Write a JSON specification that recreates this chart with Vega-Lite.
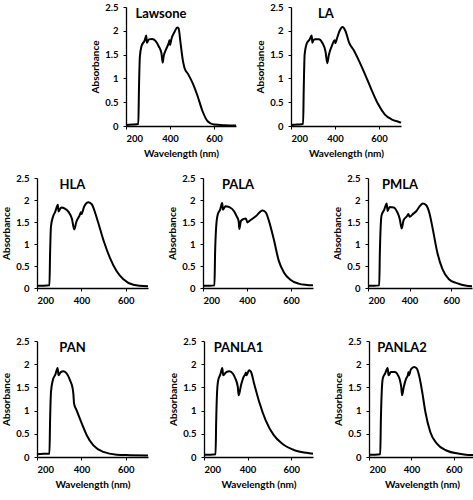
{
  "$schema": "https://vega.github.io/schema/vega-lite/v6.json",
  "padding": {"left": 1, "top": 2, "right": 0, "bottom": 0},
  "background": "white",
  "datasets": {
    "Lawsone": [
      {"wavelength": 200, "absorbance": 0.02}, {"wavelength": 230, "absorbance": 0.03}, {"wavelength": 256, "absorbance": 0.04},
      {"wavelength": 259, "absorbance": 0.8}, {"wavelength": 263, "absorbance": 1.45}, {"wavelength": 270, "absorbance": 1.67},
      {"wavelength": 285, "absorbance": 1.8}, {"wavelength": 292, "absorbance": 1.9}, {"wavelength": 295, "absorbance": 1.75},
      {"wavelength": 304, "absorbance": 1.82}, {"wavelength": 319, "absorbance": 1.83}, {"wavelength": 334, "absorbance": 1.79},
      {"wavelength": 349, "absorbance": 1.67}, {"wavelength": 361, "absorbance": 1.53}, {"wavelength": 367, "absorbance": 1.33},
      {"wavelength": 371, "absorbance": 1.46}, {"wavelength": 382, "absorbance": 1.61}, {"wavelength": 394, "absorbance": 1.74},
      {"wavelength": 398, "absorbance": 1.8}, {"wavelength": 400, "absorbance": 1.7}, {"wavelength": 406, "absorbance": 1.82},
      {"wavelength": 421, "absorbance": 1.98}, {"wavelength": 433, "absorbance": 2.07}, {"wavelength": 439, "absorbance": 2.05},
      {"wavelength": 448, "absorbance": 1.74}, {"wavelength": 458, "absorbance": 1.39}, {"wavelength": 466, "absorbance": 1.22},
      {"wavelength": 481, "absorbance": 1.1}, {"wavelength": 503, "absorbance": 0.9}, {"wavelength": 526, "absorbance": 0.62},
      {"wavelength": 548, "absorbance": 0.31}, {"wavelength": 571, "absorbance": 0.1}, {"wavelength": 600, "absorbance": 0.03},
      {"wavelength": 650, "absorbance": 0.015}, {"wavelength": 700, "absorbance": 0.01}
    ],
    "LA": [
      {"wavelength": 200, "absorbance": 0.02}, {"wavelength": 230, "absorbance": 0.03}, {"wavelength": 255, "absorbance": 0.04},
      {"wavelength": 258, "absorbance": 0.8}, {"wavelength": 262, "absorbance": 1.5}, {"wavelength": 272, "absorbance": 1.74},
      {"wavelength": 285, "absorbance": 1.82}, {"wavelength": 294, "absorbance": 1.9}, {"wavelength": 297, "absorbance": 1.75},
      {"wavelength": 300, "absorbance": 1.78}, {"wavelength": 309, "absorbance": 1.82}, {"wavelength": 327, "absorbance": 1.82},
      {"wavelength": 342, "absorbance": 1.75}, {"wavelength": 357, "absorbance": 1.56}, {"wavelength": 365, "absorbance": 1.32},
      {"wavelength": 372, "absorbance": 1.49}, {"wavelength": 387, "absorbance": 1.7}, {"wavelength": 399, "absorbance": 1.8},
      {"wavelength": 402, "absorbance": 1.74}, {"wavelength": 409, "absorbance": 1.84}, {"wavelength": 421, "absorbance": 2.0},
      {"wavelength": 435, "absorbance": 2.08}, {"wavelength": 447, "absorbance": 2.0}, {"wavelength": 465, "absorbance": 1.74},
      {"wavelength": 484, "absorbance": 1.6}, {"wavelength": 507, "absorbance": 1.39}, {"wavelength": 537, "absorbance": 1.08},
      {"wavelength": 567, "absorbance": 0.75}, {"wavelength": 597, "absorbance": 0.45}, {"wavelength": 627, "absorbance": 0.24},
      {"wavelength": 657, "absorbance": 0.14}, {"wavelength": 694, "absorbance": 0.08}, {"wavelength": 700, "absorbance": 0.07}
    ],
    "HLA": [
      {"wavelength": 200, "absorbance": 0.05}, {"wavelength": 230, "absorbance": 0.05}, {"wavelength": 256, "absorbance": 0.06},
      {"wavelength": 259, "absorbance": 0.8}, {"wavelength": 263, "absorbance": 1.4}, {"wavelength": 272, "absorbance": 1.62},
      {"wavelength": 282, "absorbance": 1.73}, {"wavelength": 294, "absorbance": 1.89}, {"wavelength": 297, "absorbance": 1.74},
      {"wavelength": 309, "absorbance": 1.83}, {"wavelength": 327, "absorbance": 1.8}, {"wavelength": 342, "absorbance": 1.73},
      {"wavelength": 357, "absorbance": 1.58}, {"wavelength": 368, "absorbance": 1.33}, {"wavelength": 377, "absorbance": 1.5},
      {"wavelength": 392, "absorbance": 1.65}, {"wavelength": 398, "absorbance": 1.72}, {"wavelength": 400, "absorbance": 1.68},
      {"wavelength": 413, "absorbance": 1.86}, {"wavelength": 432, "absorbance": 1.95}, {"wavelength": 447, "absorbance": 1.9},
      {"wavelength": 470, "absorbance": 1.58}, {"wavelength": 499, "absorbance": 1.09}, {"wavelength": 529, "absorbance": 0.68},
      {"wavelength": 559, "absorbance": 0.38}, {"wavelength": 589, "absorbance": 0.2}, {"wavelength": 634, "absorbance": 0.075},
      {"wavelength": 700, "absorbance": 0.04}
    ],
    "PALA": [
      {"wavelength": 200, "absorbance": 0.05}, {"wavelength": 230, "absorbance": 0.05}, {"wavelength": 252, "absorbance": 0.06},
      {"wavelength": 255, "absorbance": 0.8}, {"wavelength": 260, "absorbance": 1.4}, {"wavelength": 267, "absorbance": 1.67},
      {"wavelength": 278, "absorbance": 1.78}, {"wavelength": 287, "absorbance": 1.93}, {"wavelength": 291, "absorbance": 1.78},
      {"wavelength": 302, "absorbance": 1.86}, {"wavelength": 320, "absorbance": 1.84}, {"wavelength": 342, "absorbance": 1.74},
      {"wavelength": 353, "absorbance": 1.63}, {"wavelength": 362, "absorbance": 1.52}, {"wavelength": 365, "absorbance": 1.34},
      {"wavelength": 372, "absorbance": 1.52}, {"wavelength": 385, "absorbance": 1.57}, {"wavelength": 395, "absorbance": 1.58},
      {"wavelength": 402, "absorbance": 1.49}, {"wavelength": 410, "absorbance": 1.52}, {"wavelength": 440, "absorbance": 1.63},
      {"wavelength": 470, "absorbance": 1.76}, {"wavelength": 485, "absorbance": 1.72}, {"wavelength": 500, "absorbance": 1.52},
      {"wavelength": 522, "absorbance": 1.1}, {"wavelength": 545, "absorbance": 0.61}, {"wavelength": 567, "absorbance": 0.36},
      {"wavelength": 597, "absorbance": 0.19}, {"wavelength": 634, "absorbance": 0.1}, {"wavelength": 672, "absorbance": 0.07},
      {"wavelength": 700, "absorbance": 0.06}
    ],
    "PMLA": [
      {"wavelength": 200, "absorbance": 0.05}, {"wavelength": 230, "absorbance": 0.05}, {"wavelength": 254, "absorbance": 0.06},
      {"wavelength": 257, "absorbance": 0.8}, {"wavelength": 261, "absorbance": 1.4}, {"wavelength": 265, "absorbance": 1.65},
      {"wavelength": 278, "absorbance": 1.78}, {"wavelength": 290, "absorbance": 1.92}, {"wavelength": 294, "absorbance": 1.75},
      {"wavelength": 304, "absorbance": 1.84}, {"wavelength": 324, "absorbance": 1.83}, {"wavelength": 340, "absorbance": 1.73},
      {"wavelength": 352, "absorbance": 1.58}, {"wavelength": 358, "absorbance": 1.43}, {"wavelength": 362, "absorbance": 1.35},
      {"wavelength": 371, "absorbance": 1.54}, {"wavelength": 387, "absorbance": 1.63}, {"wavelength": 394, "absorbance": 1.68},
      {"wavelength": 400, "absorbance": 1.62}, {"wavelength": 418, "absorbance": 1.69}, {"wavelength": 433, "absorbance": 1.75},
      {"wavelength": 449, "absorbance": 1.86}, {"wavelength": 464, "absorbance": 1.92}, {"wavelength": 480, "absorbance": 1.88},
      {"wavelength": 496, "absorbance": 1.69}, {"wavelength": 511, "absorbance": 1.35}, {"wavelength": 534, "absorbance": 0.79},
      {"wavelength": 558, "absorbance": 0.43}, {"wavelength": 589, "absorbance": 0.2}, {"wavelength": 627, "absorbance": 0.11},
      {"wavelength": 674, "absorbance": 0.05}, {"wavelength": 700, "absorbance": 0.04}
    ],
    "PAN": [
      {"wavelength": 200, "absorbance": 0.06}, {"wavelength": 230, "absorbance": 0.07}, {"wavelength": 256, "absorbance": 0.07},
      {"wavelength": 259, "absorbance": 0.8}, {"wavelength": 263, "absorbance": 1.4}, {"wavelength": 271, "absorbance": 1.65},
      {"wavelength": 283, "absorbance": 1.78}, {"wavelength": 293, "absorbance": 1.92}, {"wavelength": 297, "absorbance": 1.76},
      {"wavelength": 307, "absorbance": 1.83}, {"wavelength": 319, "absorbance": 1.85}, {"wavelength": 334, "absorbance": 1.8},
      {"wavelength": 349, "absorbance": 1.65}, {"wavelength": 361, "absorbance": 1.47}, {"wavelength": 364, "absorbance": 1.35},
      {"wavelength": 367, "absorbance": 1.15}, {"wavelength": 379, "absorbance": 1.0}, {"wavelength": 402, "absorbance": 0.72},
      {"wavelength": 424, "absorbance": 0.47}, {"wavelength": 454, "absorbance": 0.25}, {"wavelength": 499, "absorbance": 0.11},
      {"wavelength": 559, "absorbance": 0.05}, {"wavelength": 619, "absorbance": 0.04}, {"wavelength": 700, "absorbance": 0.03}
    ],
    "PANLA1": [
      {"wavelength": 200, "absorbance": 0.05}, {"wavelength": 230, "absorbance": 0.05}, {"wavelength": 253, "absorbance": 0.06},
      {"wavelength": 256, "absorbance": 0.8}, {"wavelength": 260, "absorbance": 1.4}, {"wavelength": 265, "absorbance": 1.65},
      {"wavelength": 275, "absorbance": 1.78}, {"wavelength": 284, "absorbance": 1.92}, {"wavelength": 288, "absorbance": 1.76},
      {"wavelength": 302, "absorbance": 1.83}, {"wavelength": 317, "absorbance": 1.85}, {"wavelength": 332, "absorbance": 1.8},
      {"wavelength": 344, "absorbance": 1.69}, {"wavelength": 355, "absorbance": 1.51}, {"wavelength": 359, "absorbance": 1.33},
      {"wavelength": 370, "absorbance": 1.55}, {"wavelength": 382, "absorbance": 1.73}, {"wavelength": 389, "absorbance": 1.78},
      {"wavelength": 392, "absorbance": 1.82}, {"wavelength": 394, "absorbance": 1.76}, {"wavelength": 407, "absorbance": 1.87},
      {"wavelength": 415, "absorbance": 1.84}, {"wavelength": 430, "absorbance": 1.58}, {"wavelength": 453, "absorbance": 1.19},
      {"wavelength": 483, "absorbance": 0.79}, {"wavelength": 520, "absorbance": 0.47}, {"wavelength": 558, "absorbance": 0.29},
      {"wavelength": 618, "absorbance": 0.14}, {"wavelength": 671, "absorbance": 0.09}, {"wavelength": 700, "absorbance": 0.07}
    ],
    "PANLA2": [
      {"wavelength": 200, "absorbance": 0.05}, {"wavelength": 230, "absorbance": 0.05}, {"wavelength": 253, "absorbance": 0.06},
      {"wavelength": 256, "absorbance": 0.8}, {"wavelength": 260, "absorbance": 1.4}, {"wavelength": 265, "absorbance": 1.69},
      {"wavelength": 276, "absorbance": 1.8}, {"wavelength": 288, "absorbance": 1.92}, {"wavelength": 292, "absorbance": 1.76},
      {"wavelength": 303, "absorbance": 1.83}, {"wavelength": 322, "absorbance": 1.83}, {"wavelength": 337, "absorbance": 1.76},
      {"wavelength": 345, "absorbance": 1.67}, {"wavelength": 352, "absorbance": 1.51}, {"wavelength": 356, "absorbance": 1.33},
      {"wavelength": 364, "absorbance": 1.51}, {"wavelength": 375, "absorbance": 1.69}, {"wavelength": 383, "absorbance": 1.76},
      {"wavelength": 386, "absorbance": 1.83}, {"wavelength": 388, "absorbance": 1.76}, {"wavelength": 398, "absorbance": 1.89},
      {"wavelength": 413, "absorbance": 1.94}, {"wavelength": 425, "absorbance": 1.91}, {"wavelength": 436, "absorbance": 1.76},
      {"wavelength": 451, "absorbance": 1.4}, {"wavelength": 466, "absorbance": 0.97}, {"wavelength": 489, "absorbance": 0.54},
      {"wavelength": 520, "absorbance": 0.29}, {"wavelength": 565, "absorbance": 0.14}, {"wavelength": 626, "absorbance": 0.07},
      {"wavelength": 656, "absorbance": 0.05}, {"wavelength": 700, "absorbance": 0.04}
    ]
  },
  "vconcat": [
    {
      "hconcat": [
        {"width": 38, "height": 10, "data": {"values": []}, "mark": "point"},
        {
          "title": {"text": "Lawsone"}, "width": 110, "height": 119, "data": {"name": "Lawsone"},
          "mark": {"type": "line", "color": "black", "strokeWidth": 2, "interpolate": "monotone"},
          "encoding": {
            "x": {"field": "wavelength", "type": "quantitative", "scale": {"domain": [200, 700], "nice": false}, "axis": {"values": [200, 400, 600], "format": "d", "title": "Wavelength (nm)"}},
            "y": {"field": "absorbance", "type": "quantitative", "scale": {"domain": [0, 2.5], "nice": false}, "axis": {"values": [0, 0.5, 1, 1.5, 2, 2.5], "format": "~g", "title": "Absorbance"}}
          }
        },
        {
          "title": {"text": "LA"}, "width": 110, "height": 119, "data": {"name": "LA"},
          "mark": {"type": "line", "color": "black", "strokeWidth": 2, "interpolate": "monotone"},
          "encoding": {
            "x": {"field": "wavelength", "type": "quantitative", "scale": {"domain": [200, 700], "nice": false}, "axis": {"values": [200, 400, 600], "format": "d", "title": "Wavelength (nm)"}},
            "y": {"field": "absorbance", "type": "quantitative", "scale": {"domain": [0, 2.5], "nice": false}, "axis": {"values": [0, 0.5, 1, 1.5, 2, 2.5], "format": "~g", "title": "Absorbance"}}
          }
        }
      ],
      "spacing": 15
    },
    {
      "vconcat": [
        {
          "hconcat": [
            {
              "title": {"text": "HLA"}, "width": 111, "height": 110, "data": {"name": "HLA"},
              "mark": {"type": "line", "color": "black", "strokeWidth": 2, "interpolate": "monotone"},
              "encoding": {
                "x": {"field": "wavelength", "type": "quantitative", "scale": {"domain": [200, 700], "nice": false}, "axis": {"values": [200, 400, 600], "format": "d", "title": null}},
                "y": {"field": "absorbance", "type": "quantitative", "scale": {"domain": [0, 2.5], "nice": false}, "axis": {"values": [0, 0.5, 1, 1.5, 2, 2.5], "format": "~g", "title": "Absorbance"}}
              }
            },
            {
              "title": {"text": "PALA"}, "width": 110, "height": 110, "data": {"name": "PALA"},
              "mark": {"type": "line", "color": "black", "strokeWidth": 2, "interpolate": "monotone"},
              "encoding": {
                "x": {"field": "wavelength", "type": "quantitative", "scale": {"domain": [200, 700], "nice": false}, "axis": {"values": [200, 400, 600], "format": "d", "title": null}},
                "y": {"field": "absorbance", "type": "quantitative", "scale": {"domain": [0, 2.5], "nice": false}, "axis": {"values": [0, 0.5, 1, 1.5, 2, 2.5], "format": "~g", "title": "Absorbance"}}
              }
            },
            {
              "title": {"text": "PMLA"}, "width": 104, "height": 110, "data": {"name": "PMLA"},
              "mark": {"type": "line", "color": "black", "strokeWidth": 2, "interpolate": "monotone"},
              "encoding": {
                "x": {"field": "wavelength", "type": "quantitative", "scale": {"domain": [200, 700], "nice": false}, "axis": {"values": [200, 400, 600], "format": "d", "title": null}},
                "y": {"field": "absorbance", "type": "quantitative", "scale": {"domain": [0, 2.5], "nice": false}, "axis": {"values": [0, 0.5, 1, 1.5, 2, 2.5], "format": "~g", "title": "Absorbance"}}
              }
            }
          ],
          "spacing": 15
        },
        {
          "hconcat": [
            {
              "title": {"text": "PAN"}, "width": 111, "height": 116, "data": {"name": "PAN"},
              "mark": {"type": "line", "color": "black", "strokeWidth": 2, "interpolate": "monotone"},
              "encoding": {
                "x": {"field": "wavelength", "type": "quantitative", "scale": {"domain": [200, 700], "nice": false}, "axis": {"values": [200, 400, 600], "format": "d", "title": "Wavelength (nm)"}},
                "y": {"field": "absorbance", "type": "quantitative", "scale": {"domain": [0, 2.5], "nice": false}, "axis": {"values": [0, 0.5, 1, 1.5, 2, 2.5], "format": "~g", "title": "Absorbance"}}
              }
            },
            {
              "title": {"text": "PANLA1"}, "width": 109, "height": 116, "data": {"name": "PANLA1"},
              "mark": {"type": "line", "color": "black", "strokeWidth": 2, "interpolate": "monotone"},
              "encoding": {
                "x": {"field": "wavelength", "type": "quantitative", "scale": {"domain": [200, 700], "nice": false}, "axis": {"values": [200, 400, 600], "format": "d", "title": "Wavelength (nm)"}},
                "y": {"field": "absorbance", "type": "quantitative", "scale": {"domain": [0, 2.5], "nice": false}, "axis": {"values": [0, 0.5, 1, 1.5, 2, 2.5], "format": "~g", "title": "Absorbance"}}
              }
            },
            {
              "title": {"text": "PANLA2"}, "width": 106, "height": 116, "data": {"name": "PANLA2"},
              "mark": {"type": "line", "color": "black", "strokeWidth": 2, "interpolate": "monotone"},
              "encoding": {
                "x": {"field": "wavelength", "type": "quantitative", "scale": {"domain": [200, 700], "nice": false}, "axis": {"values": [200, 400, 600], "format": "d", "title": "Wavelength (nm)"}},
                "y": {"field": "absorbance", "type": "quantitative", "scale": {"domain": [0, 2.5], "nice": false}, "axis": {"values": [0, 0.5, 1, 1.5, 2, 2.5], "format": "~g", "title": "Absorbance"}}
              }
            }
          ],
          "spacing": 16
        }
      ],
      "spacing": 31
    }
  ],
  "spacing": 14,
  "config": {
    "view": {"stroke": null},
    "axis": {
      "grid": false, "domainColor": "black", "domainWidth": 1.3, "tickColor": "black", "tickSize": 3, "tickWidth": 1,
      "labelFont": "Lato", "labelFontWeight": "bold", "labelFontSize": 9.5, "labelColor": "black",
      "titleFont": "Lato", "titleFontWeight": "bold", "titleFontSize": 10, "titleColor": "black"
    },
    "axisY": {"labelPadding": 5, "titlePadding": 4},
    "axisX": {"labelPadding": 4, "titlePadding": 6},
    "title": {"font": "Lato", "fontWeight": "bold", "fontSize": 13, "color": "black", "anchor": "middle", "frame": "group", "dx": -20, "offset": 0, "dy": 23}
  }
}
